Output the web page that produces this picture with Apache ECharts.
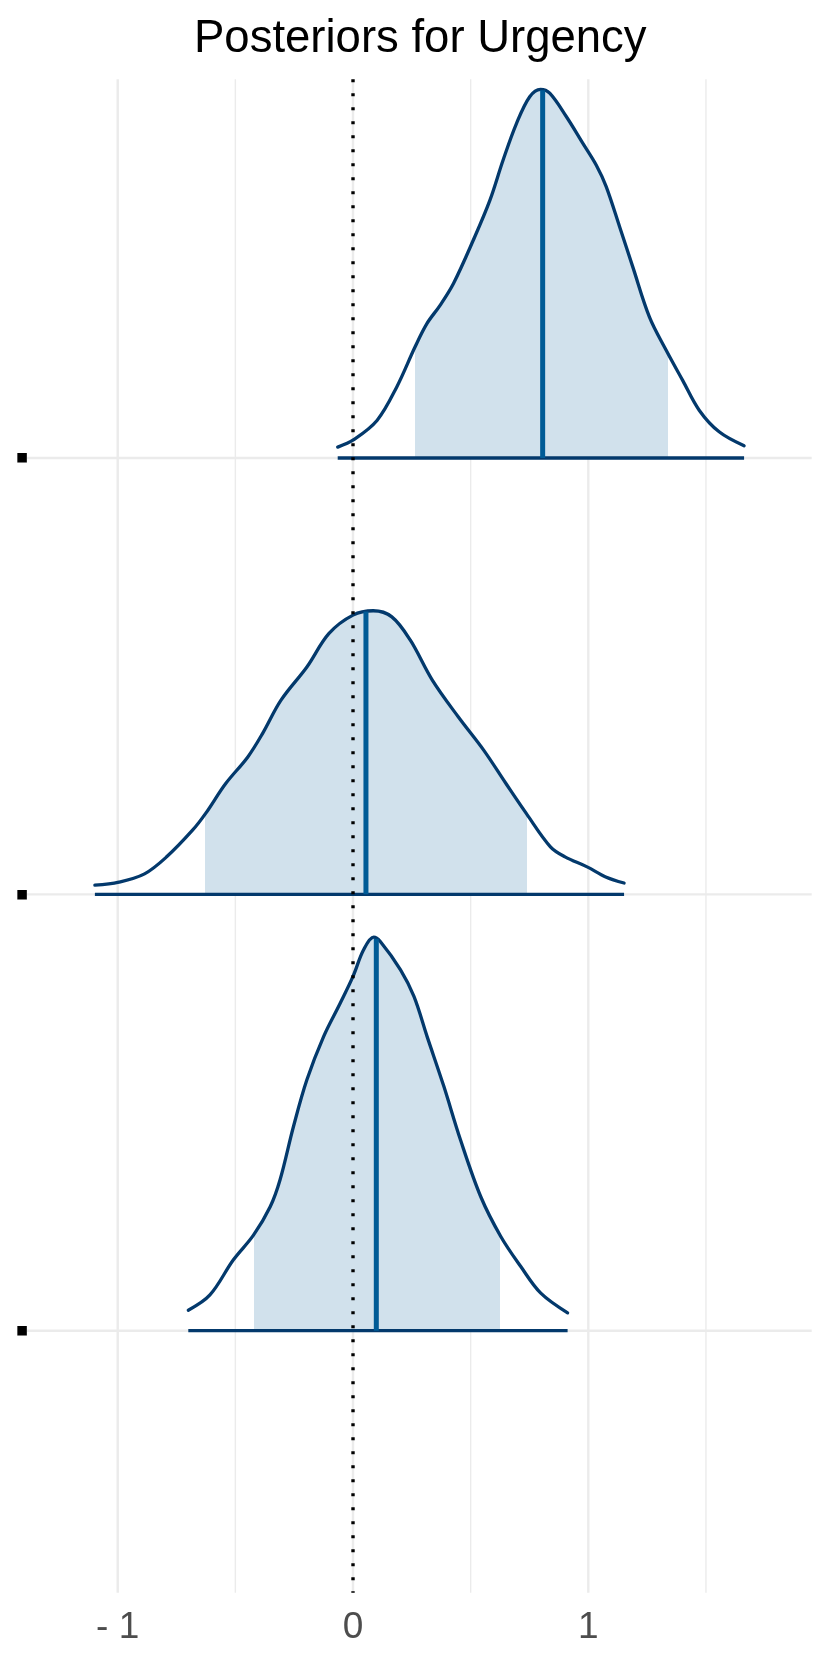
<!DOCTYPE html>
<html>
<head>
<meta charset="utf-8">
<script src="https://cdn.jsdelivr.net/npm/echarts@6/dist/echarts.min.js"></script>
<style>
html,body{margin:0;padding:0;background:#fff;}
#chart{width:830px;height:1661px;}
</style>
</head>
<body>
<div id="chart"></div>
<script>
// ---- Data ----
const titleText = 'Posteriors for Urgency';
const ridgeLabels = ['\u25A0', '\u25A0', '\u25A0'];   // rendered as small black squares (bottom, middle, top)
const ridgeBaselines = [1, 2, 3];                       // bottom, middle, top

// bottom ridge
const bottomX = [-0.700, -0.608, -0.509, -0.423, -0.352, -0.310, -0.253, -0.196, -0.125, -0.054, 0.000, 0.045, 0.088, 0.116, 0.202, 0.259, 0.315, 0.386, 0.457, 0.543, 0.628, 0.713, 0.798, 0.912];
const bottomH = [0.047, 0.082, 0.162, 0.219, 0.284, 0.346, 0.468, 0.575, 0.674, 0.751, 0.812, 0.873, 0.902, 0.892, 0.827, 0.766, 0.674, 0.560, 0.437, 0.307, 0.216, 0.147, 0.086, 0.041];
// middle ridge
const middleX = [-1.097, -0.995, -0.886, -0.792, -0.682, -0.627, -0.541, -0.447, -0.384, -0.306, -0.196, -0.102, 0.000, 0.086, 0.165, 0.243, 0.337, 0.447, 0.556, 0.650, 0.737, 0.839, 0.901, 0.995, 1.074, 1.152];
const middleH = [0.021, 0.028, 0.047, 0.086, 0.147, 0.185, 0.254, 0.315, 0.369, 0.445, 0.521, 0.598, 0.640, 0.650, 0.636, 0.583, 0.491, 0.407, 0.330, 0.254, 0.185, 0.109, 0.086, 0.063, 0.040, 0.026];
// top ridge
const topX = [-0.065, 0.003, 0.102, 0.186, 0.264, 0.314, 0.370, 0.427, 0.511, 0.582, 0.638, 0.695, 0.751, 0.797, 0.836, 0.907, 0.977, 1.034, 1.076, 1.133, 1.189, 1.260, 1.331, 1.401, 1.472, 1.556, 1.662];
const topH = [0.025, 0.042, 0.086, 0.163, 0.255, 0.308, 0.350, 0.400, 0.499, 0.591, 0.683, 0.767, 0.828, 0.845, 0.836, 0.782, 0.721, 0.671, 0.622, 0.530, 0.438, 0.323, 0.247, 0.178, 0.109, 0.060, 0.028];

const intervalLow  = [-0.420, -0.630, 0.264];   // bottom, middle, top
const intervalHigh = [0.624, 0.740, 1.340];
const medians      = [0.099, 0.055, 0.806];
const medianHeights = [0.898, 0.648, 0.843];

const xTicks = [-1, 0, 1];
const xGridMajor = [-1, 0, 1];
const xGridMinor = [-0.5, 0.5, 1.5];
const refLineX = 0;

// ---- Layout / style ----
const X_MIN = -1.3855, X_MAX = 1.9494;
const Y_MIN = 0.3996, Y_MAX = 3.8679;
const OUTLINE = '#03396c';
const MEDIAN = '#005b96';
const FILL = '#d1e1ec';
const GRID = '#ebebeb';

const ridgesX = [bottomX, middleX, topX];
const ridgesH = [bottomH, middleH, topH];

const series = [];
function seg(data, color, width, z, type) {
  series.push({
    type: 'line', data: data, showSymbol: false, silent: true, z: z,
    lineStyle: { color: color, width: width, type: type || 'solid', cap: 'butt' },
    animation: false
  });
}
// gridlines
xGridMinor.forEach(x => seg([[x, Y_MIN], [x, Y_MAX]], GRID, 1.4, 1));
xGridMajor.forEach(x => seg([[x, Y_MIN], [x, Y_MAX]], GRID, 2.4, 1));
ridgeBaselines.forEach(y => seg([[X_MIN, y], [X_MAX, y]], GRID, 2.4, 1));

const visualMaps = [];
for (let r = 0; r < 3; r++) {
  const base = ridgeBaselines[r];
  const pts = ridgesX[r].map((x, i) => [x, base + ridgesH[r][i]]);
  // interval fill
  visualMaps.push({
    type: 'piecewise', show: false, dimension: 0, seriesIndex: series.length,
    pieces: [{ gte: intervalLow[r], lte: intervalHigh[r], color: FILL }],
    outOfRange: { color: 'rgba(209,225,236,0)' }
  });
  series.push({
    type: 'line', data: pts, smooth: 0.35, showSymbol: false, silent: true, z: 2,
    lineStyle: { width: 0, opacity: 0 },
    areaStyle: { origin: base, opacity: 1 },
    animation: false
  });
}
for (let r = 0; r < 3; r++) {
  const base = ridgeBaselines[r];
  const xs = ridgesX[r];
  const pts = xs.map((x, i) => [x, base + ridgesH[r][i]]);
  // density outline
  series.push({
    type: 'line', data: pts, smooth: 0.35, showSymbol: false, silent: true, z: 4,
    lineStyle: { color: OUTLINE, width: 3.3, cap: 'round', join: 'round' }, animation: false
  });
  // baseline segment
  seg([[xs[0], base], [xs[xs.length - 1], base]], OUTLINE, 3.3, 4);
  // median line
  seg([[medians[r], base], [medians[r], base + medianHeights[r]]], MEDIAN, 5, 5);
}
// dotted reference line at 0
seg([[refLineX, Y_MAX], [refLineX, Y_MIN]], '#000000', 3.4, 6, [3, 11]);

const chart = echarts.init(document.getElementById('chart'), null, { renderer: 'canvas' });
chart.setOption({
  backgroundColor: '#ffffff',
  animation: false,
  title: {
    text: titleText, left: 189, top: 11,
    textStyle: { fontFamily: 'Liberation Sans', fontSize: 45.5, fontWeight: 'normal', color: '#000000' }
  },
  grid: { left: 27, right: 18.3, top: 79.3, bottom: 68.3, containLabel: false },
  xAxis: {
    type: 'value', min: X_MIN, max: X_MAX,
    axisLine: { show: false }, axisTick: { show: false }, splitLine: { show: false },
    axisLabel: {
      customValues: xTicks, margin: 17,
      fontFamily: 'Liberation Sans', fontSize: 37, color: '#4d4d4d',
      formatter: v => (v < 0 ? '- ' + Math.abs(v) : String(v))
    }
  },
  yAxis: {
    type: 'value', min: Y_MIN, max: Y_MAX,
    axisLine: { show: false }, axisTick: { show: false }, splitLine: { show: false },
    axisLabel: {
      customValues: ridgeBaselines, margin: -1,
      fontFamily: 'DejaVu Sans', fontSize: 12.5, color: '#000000',
      formatter: v => ridgeLabels[ridgeBaselines.indexOf(v)] || ''
    }
  },
  visualMap: visualMaps,
  series: series
});
</script>
</body>
</html>
